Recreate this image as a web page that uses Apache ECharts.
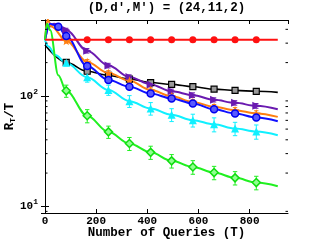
<!DOCTYPE html>
<html><head><meta charset="utf-8">
<script src="https://cdn.jsdelivr.net/npm/echarts@6/dist/echarts.min.js"></script>
<style>html,body{margin:0;padding:0;background:#fff}#c{width:319px;height:240px}</style>
</head><body><div id="c"></div>
<script>
const titleText = "(D,d\u2032,M\u2032) = (24,11,2)";
const xName = "Number of Queries (T)";
const xTicks = [0, 200, 400, 600, 800];
const yMinorTicks = [9, 20, 30, 40, 50, 60, 70, 80, 90, 200, 300, 400];

// sample points (markers) shared by most series
const markT = [83, 165, 248, 330, 413, 495, 578, 661, 743, 826];

// red: filled circles
const redCurveT = [0, 83, 165, 248, 330, 413, 495, 578, 661, 743, 826, 910];
const redCurveV = [322, 322, 322, 322, 322, 322, 322, 322, 322, 322, 322, 322];
const redMarkT = [165, 248, 330, 413, 495, 578, 661, 743, 826];
const redMarkV = [322, 322, 322, 322, 322, 322, 322, 322, 322];
const redErr = [2, 2, 2, 2, 2, 2, 2, 2, 2];

// black: squares
const blackCurveT = [0, 83, 165, 248, 330, 413, 495, 578, 661, 743, 826, 910];
const blackCurveV = [288, 201, 167, 153, 142, 132, 127, 121, 115, 112, 110, 107.5];
const blackMarkV = [201, 167, 153, 142, 132, 127, 121, 115, 112, 110];
const blackErr = [4, 3, 3, 3, 2, 2, 2, 2, 2, 2];

// purple: right-pointing triangles
const purpleCurveT = [0, 15, 35, 83, 165, 248, 330, 413, 495, 578, 661, 743, 826, 910];
const purpleCurveV = [320, 420, 450, 394, 256, 188, 148, 127, 110, 101.5, 92, 86.4, 81.2, 75.5];
const purpleMarkV = [394, 256, 188, 148, 127, 110, 101.5, 92, 86.4, 81.2];
const purpleErr = [15, 12, 9, 7, 6, 5, 5, 4, 4, 4];

// orange: stars
const orangeCurveT = [0, 10, 25, 83, 165, 248, 330, 413, 495, 578, 661, 743, 826, 910];
const orangeCurveV = [320, 490, 425, 315, 203, 161, 137, 113, 99, 88.2, 79.5, 74.2, 69.3, 64.5];
const orangeMarkV = [315, 203, 161, 137, 113, 99, 88.2, 79.5, 74.2, 69.3];
const orangeErr = [14, 10, 8, 6, 5, 5, 4, 4, 4, 4];

// blue: circles
const blueCurveT = [0, 20, 52, 83, 165, 248, 330, 413, 495, 578, 661, 743, 826, 910];
const blueCurveV = [320, 450, 422, 348, 186, 139, 121, 105, 94.7, 85.3, 75.5, 69.3, 63.7, 59];
const blueMarkT = [52, 83, 165, 248, 330, 413, 495, 578, 661, 743, 826];
const blueMarkV = [422, 348, 186, 139, 121, 105, 94.7, 85.3, 75.5, 69.3, 63.7];
const blueErr = [15, 15, 10, 7, 6, 5, 5, 4, 4, 4, 4];

// cyan: up triangles
const cyanCurveT = [0, 14, 40, 83, 165, 248, 330, 413, 495, 578, 661, 743, 826, 910];
const cyanCurveV = [320, 280, 234, 199, 147, 113, 89.5, 76.9, 67.5, 60.2, 55.2, 50.6, 47.5, 44];
const cyanMarkV = [199, 147, 113, 89.5, 76.9, 67.5, 60.2, 55.2, 50.6, 47.5];
const cyanErr = [12, 14, 12, 11, 10, 9, 8, 8, 7, 7];

// green: diamonds
const greenCurveT = [0, 8, 20, 52, 83, 165, 248, 330, 413, 495, 578, 661, 743, 826, 910];
const greenCurveV = [320, 450, 394, 154, 111, 66, 47.2, 37, 30.8, 25.8, 22.7, 20.2, 18.1, 16.4, 15.2];
const greenMarkV = [111, 66, 47.2, 37, 30.8, 25.8, 22.7, 20.2, 18.1, 16.4];
const greenErr = [14, 9, 6, 5, 4.2, 3.6, 3.2, 2.8, 2.5, 2.3];

const FONT = "'Liberation Mono','DejaVu Sans Mono',monospace";
const starPath = 'path://M50,0 L61,35 L98,35 L68,57 L79,91 L50,70 L21,91 L32,57 L2,35 L39,35 Z';
const rightTri = 'path://M0,0 L100,50 L0,100 Z';

function zip(a, b) { return a.map((t, i) => [t, b[i]]); }
function zip3(a, b, c) { return a.map((t, i) => [t, b[i], c[i]]); }

const groups = [
  { name: 'black', color: '#000000', T: blackCurveT, V: blackCurveV, mT: markT, mV: blackMarkV, err: blackErr,
    symbol: 'rect', size: 6, fill: '#9a9a9a', border: '#000', bw: 1.2, lw: 1.6 },
  { name: 'purple', color: '#6a1ab0', T: purpleCurveT, V: purpleCurveV, mT: markT, mV: purpleMarkV, err: purpleErr,
    symbol: rightTri, size: 8, fill: '#6a1ab0', border: '#6a1ab0', bw: 0, lw: 2 },
  { name: 'orange', color: '#ff7f10', T: orangeCurveT, V: orangeCurveV, mT: markT, mV: orangeMarkV, err: orangeErr,
    symbol: starPath, size: 9, fill: '#ff7f10', border: '#ff7f10', bw: 0, lw: 2 },
  { name: 'blue', color: '#1010ff', T: blueCurveT, V: blueCurveV, mT: blueMarkT, mV: blueMarkV, err: blueErr,
    symbol: 'circle', size: 7, fill: '#5a5aff', border: '#0000ee', bw: 1.5, lw: 2 },
  { name: 'cyan', color: '#10f0ff', T: cyanCurveT, V: cyanCurveV, mT: markT, mV: cyanMarkV, err: cyanErr,
    symbol: 'triangle', size: 8, fill: '#10f0ff', border: '#10f0ff', bw: 0, lw: 2 },
  { name: 'green', color: '#20f020', T: greenCurveT, V: greenCurveV, mT: markT, mV: greenMarkV, err: greenErr,
    symbol: 'diamond', size: 8, fill: '#90ff90', border: '#10dd10', bw: 1.5, lw: 2 },
  { name: 'red', color: '#ff1010', T: redCurveT, V: redCurveV, mT: redMarkT, mV: redMarkV, err: redErr,
    symbol: 'circle', size: 7, fill: '#ff1010', border: '#ff1010', bw: 0, lw: 2 }
];

const series = [];
groups.forEach((g, gi) => {
  series.push({
    type: 'line', data: zip(g.T, g.V), smooth: 0.35, smoothMonotone: 'x', showSymbol: false,
    lineStyle: { color: g.color, width: g.lw }, z: 2 + gi * 0.01, silent: true, animation: false
  });
  series.push({
    type: 'custom', data: zip3(g.mT, g.mV, g.err), z: 3, animation: false, silent: true,
    renderItem: function (params, api) {
      const t = api.value(0), v = api.value(1), e = api.value(2);
      const lo = api.coord([t, v - e]), hi = api.coord([t, v + e]);
      const cw = 2.2;
      const st = { stroke: g.color, lineWidth: 1 };
      return { type: 'group', children: [
        { type: 'line', shape: { x1: lo[0], y1: lo[1], x2: hi[0], y2: hi[1] }, style: st },
        { type: 'line', shape: { x1: lo[0] - cw, y1: lo[1], x2: lo[0] + cw, y2: lo[1] }, style: st },
        { type: 'line', shape: { x1: hi[0] - cw, y1: hi[1], x2: hi[0] + cw, y2: hi[1] }, style: st }
      ]};
    }
  });
  series.push({
    type: 'scatter', data: zip(g.mT, g.mV), symbol: g.symbol, symbolSize: g.size, z: 4, animation: false, silent: true,
    itemStyle: { color: g.fill, borderColor: g.border, borderWidth: g.bw, opacity: 1 }
  });
});

// minor ticks on the log axis (left & right edges)
series.push({
  type: 'custom', data: yMinorTicks.map(v => [0, v]), z: 10, silent: true, animation: false,
  renderItem: function (params, api) {
    const cs = params.coordSys;
    const y = api.coord([0, api.value(1)])[1];
    const st = { stroke: '#000', lineWidth: 1 };
    return { type: 'group', children: [
      { type: 'line', shape: { x1: cs.x, y1: y, x2: cs.x + 2.5, y2: y }, style: st },
      { type: 'line', shape: { x1: cs.x + cs.width - 2.5, y1: y, x2: cs.x + cs.width, y2: y }, style: st }
    ]};
  }
});

const axisLineStyle = { show: true, lineStyle: { color: '#000', width: 1 } };
const tickStyle = { show: true, inside: true, length: 4, lineStyle: { color: '#000', width: 1 } };

const option = {
  backgroundColor: '#ffffff',
  animation: false,
  graphic: [{
    type: 'text', x: 166.5, y: 8,
    style: { text: titleText, font: "bold 12.5px " + FONT, fill: '#000', textAlign: 'center', textVerticalAlign: 'middle' }
  }],
  grid: { left: 45, right: 31, top: 20, bottom: 27, show: false, containLabel: false, outerBoundsMode: 'none' },
  xAxis: [{
    type: 'value', min: 0, max: 950, interval: 200, position: 'bottom',
    name: xName, nameLocation: 'middle', nameGap: 13, nameMoveOverlap: false,
    nameTextStyle: { fontFamily: FONT, fontWeight: 'bold', fontSize: 12.5, color: '#000', verticalAlign: 'top' },
    axisLine: axisLineStyle, axisTick: tickStyle, splitLine: { show: false },
    axisLabel: { fontFamily: FONT, fontWeight: 'bold', fontSize: 11, color: '#000', margin: 3, showMaxLabel: false,
      formatter: v => (xTicks.indexOf(v) >= 0 ? String(v) : '') }
  }, {
    type: 'value', min: 0, max: 950, interval: 200, position: 'top',
    axisLine: axisLineStyle, axisTick: tickStyle, axisLabel: { show: false }, splitLine: { show: false }
  }],
  yAxis: [{
    type: 'log', logBase: 10, min: 8.7, max: 486, position: 'left',
    name: 'R{sub|T}/T', nameLocation: 'middle', nameGap: 35, nameRotate: 90, nameMoveOverlap: false,
    nameTextStyle: { fontFamily: FONT, fontWeight: 'bold', fontSize: 12.5, color: '#000', verticalAlign: 'middle',
      rich: { sub: { fontFamily: FONT, fontWeight: 'bold', fontSize: 8, verticalAlign: 'bottom' } } },
    axisLine: axisLineStyle, axisTick: tickStyle, splitLine: { show: false },
    axisLabel: { showMinLabel: false, showMaxLabel: false, margin: 7, color: '#000',
      fontFamily: FONT, fontWeight: 'bold', fontSize: 11,
      formatter: function (v) {
        const e = Math.round(Math.log10(v));
        if (Math.abs(Math.log10(v) - e) > 1e-6) return '';
        return '10{sup|' + e + '}';
      },
      rich: { sup: { fontFamily: FONT, fontWeight: 'bold', fontSize: 8, verticalAlign: 'top', padding: [0, 0, 8, 0] } }
    }
  }, {
    type: 'log', logBase: 10, min: 8.7, max: 486, position: 'right',
    axisLine: axisLineStyle, axisTick: tickStyle, axisLabel: { show: false }, splitLine: { show: false }
  }],
  series: series
};

const chart = echarts.init(document.getElementById('c'), null, { renderer: 'canvas', width: 319, height: 240 });
chart.setOption(option);
</script>
</body></html>
